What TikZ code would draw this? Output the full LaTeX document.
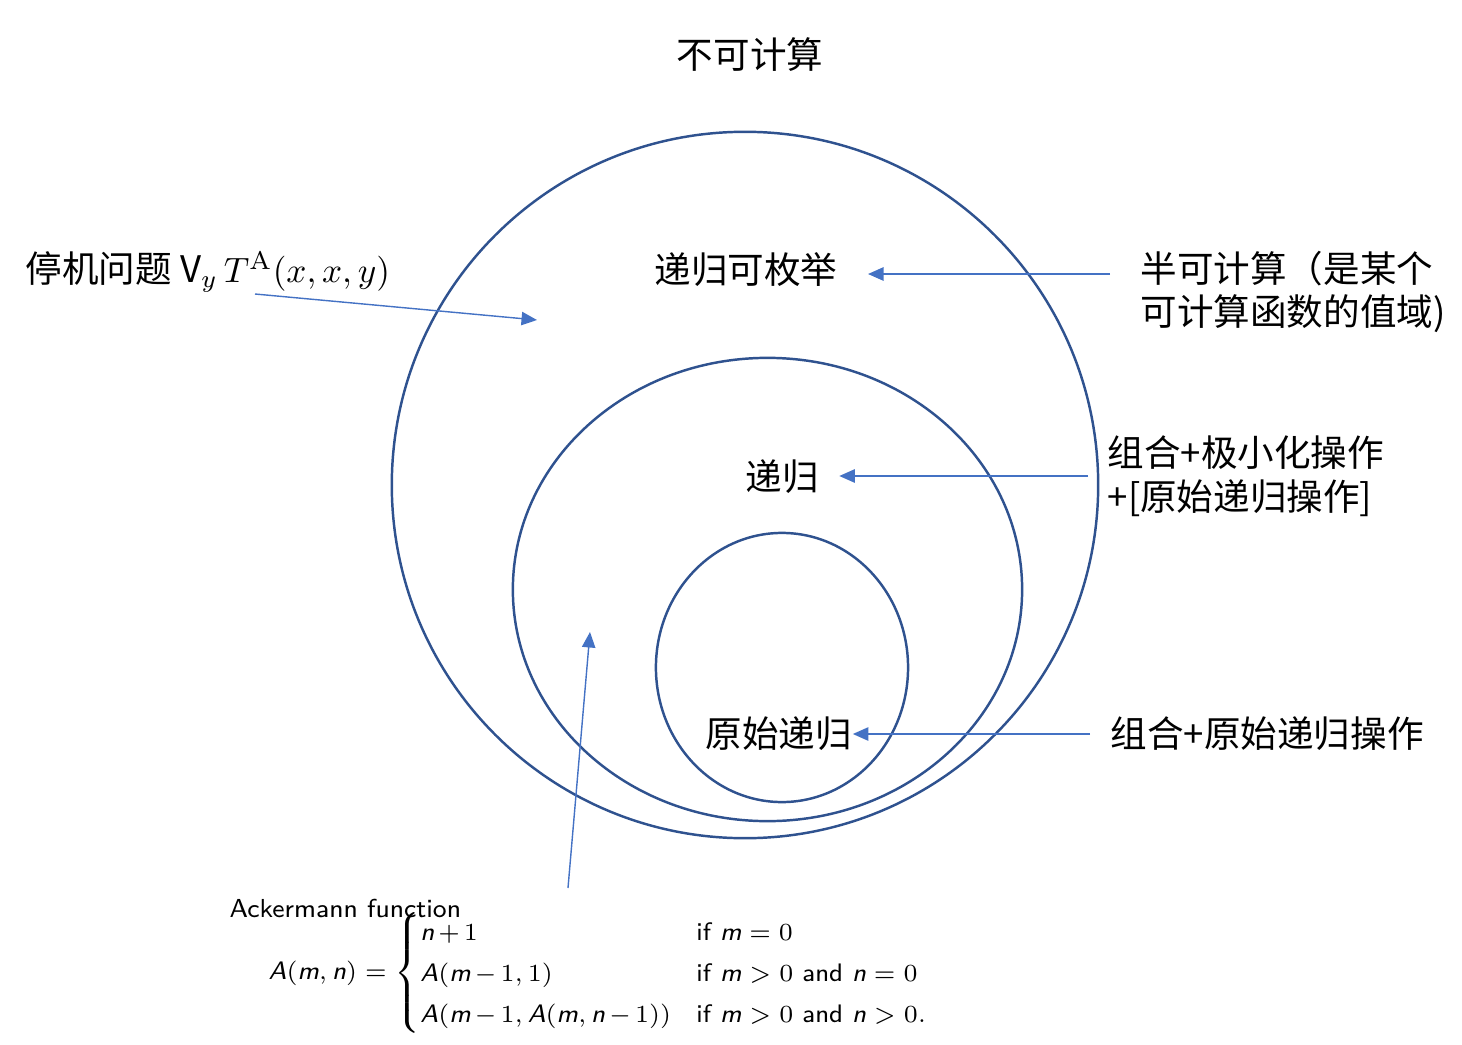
\documentclass[tikz,border=0pt]{standalone}
\usepackage{amsmath}
\usepackage{fontspec}
\newfontfamily\cjk{Noto Sans CJK SC}
\usetikzlibrary{arrows.meta}
\definecolor{ringblue}{RGB}{47,82,143}
\definecolor{arrowblue}{RGB}{68,114,196}
\tikzset{
  ring/.style={draw=ringblue, line width=0.7pt},
  pointer/.style={draw=arrowblue, line width=0.4pt, -{Triangle[length=4.4pt,width=3.8pt]}},
  tag/.style={inner sep=0pt, font=\fontsize{10.4}{12.5}\selectfont\cjk},
}
\newcommand\sv[1]{\textsf{\itshape #1}}
\begin{document}
\begin{tikzpicture}[x=0.01cm, y=-0.01cm]
  \useasboundingbox (0,0) rectangle (1462,1045);
  % nested classes
  \draw[ring] (745,485) ellipse [x radius=3.53cm, y radius=3.53cm];
  \draw[ring] (767.5,589.5) ellipse [x radius=2.545cm, y radius=2.315cm];
  \draw[ring] (782,667.5) ellipse [x radius=1.26cm, y radius=1.345cm];
  % class names
  \node[tag] (uncomp) at (750,55) {不可计算};
  \node[tag] (enum) at (746,270) {递归可枚举};
  \node[tag] (rec) at (782,477) {递归};
  \node[tag] (prim) at (779,734) {原始递归};
  % side notes
  \node[tag, anchor=north west, align=left] (semi) at (1140,250) {半可计算（是某个\\可计算函数的值域)};
  \node[tag, anchor=north west, align=left] (minop) at (1107,435) {组合+极小化操作\\+[原始递归操作]};
  \node[tag, anchor=west] (primop) at (1110,734) {组合+原始递归操作};
  \node[tag, anchor=west] (halt) at (25,272) {停机问题 V$_y\,T^{\mathrm{A}}(x,x,y)$};
  % Ackermann
  \node[anchor=west, inner sep=0pt, font=\fontsize{7.4}{9}\selectfont\sffamily] (ackname) at (229,908) {Ackermann function};
  \node[anchor=west, inner sep=0pt, font=\fontsize{7.2}{9.7}\selectfont] (ackdef) at (268,973)
    {$\medmuskip=2.5mu \sv{A}(\sv{m},\sv{n}) = \begin{cases}
      \sv{n}+1 & \text{\sffamily if } \sv{m}=0\\
      \sv{A}(\sv{m}-1,1) & \text{\sffamily if } \sv{m}>0 \text{\sffamily\ and } \sv{n}=0\\
      \sv{A}(\sv{m}-1,\sv{A}(\sv{m},\sv{n}-1)) & \text{\sffamily if } \sv{m}>0 \text{\sffamily\ and } \sv{n}>0.
    \end{cases}$};
  % arrows
  \coordinate (semistart) at (1110,274);
  \coordinate (minstart) at (1088,476);
  \coordinate (primstart) at (1090,734);
  \coordinate (haltstart) at (255,294);
  \coordinate (halttip) at (537,320);
  \coordinate (ackstart) at (568,888);
  \coordinate (acktip) at (590,632);
  \draw[pointer, shorten >=8.5pt] (semistart) -- (semistart -| enum.east);
  \draw[pointer, shorten >=5.7pt] (minstart) -- (minstart -| rec.east);
  \draw[pointer] (primstart) -- (prim.east);
  \draw[pointer] (haltstart) -- (halttip);
  \draw[pointer] (ackstart) -- (acktip);
\end{tikzpicture}
\end{document}
